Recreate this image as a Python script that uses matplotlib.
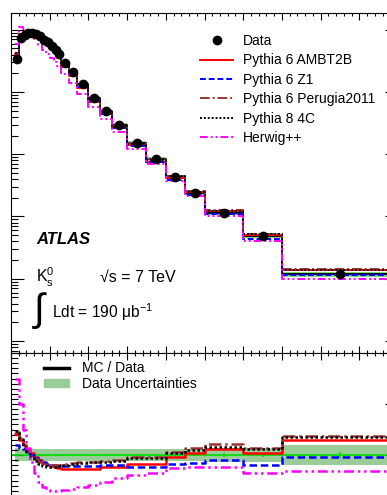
import matplotlib
matplotlib.use("Agg")
import matplotlib.pyplot as plt
import numpy as np
from matplotlib.lines import Line2D
from matplotlib.patches import Patch
from matplotlib.ticker import MultipleLocator, LogLocator, NullFormatter

plt.rcParams['font.family'] = ['Liberation Sans', 'DejaVu Sans']
plt.rcParams['mathtext.fontset'] = 'custom'
plt.rcParams['mathtext.rm'] = 'Liberation Sans'
plt.rcParams['mathtext.it'] = 'Liberation Sans:italic'

# K0s pT bins [GeV]
edges = [0.1, 0.2, 0.3, 0.4, 0.5, 0.6, 0.7, 0.8, 0.9, 1.0, 1.1, 1.2, 1.3,
         1.5, 1.7, 2.0, 2.3, 2.6, 3.0, 3.5, 4.0, 4.5, 5.0, 6.0, 7.0, 10.0]

# 1/N dN/dpT
data = [0.339, 0.737, 0.823, 0.887, 0.903, 0.855, 0.779, 0.697, 0.624, 0.548,
        0.473, 0.408, 0.292, 0.210, 0.134, 0.0801, 0.0496, 0.0295, 0.0152,
        0.0084, 0.00431, 0.00239, 0.00114, 0.000486, 0.000119]
# relative data uncertainties (total) and statistical
data_unc = [0.065, 0.06, 0.055, 0.055, 0.055, 0.055, 0.055, 0.055, 0.055, 0.055,
            0.055, 0.055, 0.06, 0.06, 0.06, 0.06, 0.06, 0.06, 0.06, 0.06,
            0.06, 0.06, 0.065, 0.07, 0.095]
data_stat = [0.005, 0.004, 0.004, 0.004, 0.004, 0.004, 0.004, 0.004, 0.004, 0.004,
             0.005, 0.005, 0.005, 0.005, 0.006, 0.006, 0.007, 0.008, 0.009, 0.01,
             0.012, 0.014, 0.015, 0.02, 0.03]

# MC / Data
r_ambt2b = [1.21, 1.15, 1.10, 1.06, 1.02, 0.98, 0.95, 0.92, 0.90, 0.89, 0.88, 0.87,
            0.86, 0.86, 0.86, 0.86, 0.88, 0.88, 0.91, 0.91, 0.98, 1.02, 1.06, 1.02, 1.15]
r_z1 = [1.10, 1.07, 1.06, 1.03, 1.00, 0.97, 0.95, 0.93, 0.91, 0.90, 0.90, 0.89,
        0.89, 0.89, 0.89, 0.89, 0.90, 0.90, 0.88, 0.88, 0.91, 0.92, 0.95, 0.90, 0.98]
r_p2011 = [1.23, 1.17, 1.10, 1.04, 0.99, 0.96, 0.93, 0.91, 0.90, 0.90, 0.90, 0.90,
           0.91, 0.92, 0.93, 0.93, 0.94, 0.95, 0.98, 0.98, 1.03, 1.07, 1.11, 1.07, 1.19]
r_4c = [1.24, 1.16, 1.08, 1.02, 0.97, 0.94, 0.91, 0.89, 0.88, 0.88, 0.88, 0.89,
        0.90, 0.91, 0.92, 0.93, 0.93, 0.94, 0.97, 0.97, 1.02, 1.05, 1.08, 1.06, 1.18]
r_herwig = [1.75, 1.50, 1.25, 1.07, 0.93, 0.82, 0.74, 0.69, 0.66, 0.65, 0.65, 0.65,
            0.66, 0.67, 0.69, 0.71, 0.74, 0.77, 0.80, 0.82, 0.87, 0.88, 0.88, 0.82, 0.84]

mc_names = ['Pythia 6 AMBT2B', 'Pythia 6 Z1', 'Pythia 6 Perugia2011', 'Pythia 8 4C', 'Herwig++']
mc_ratios = [r_ambt2b, r_z1, r_p2011, r_4c, r_herwig]
mc_colors = ['#ff0000', '#0000ff', '#993333', '#000000', '#ff00ff']
mc_styles = ['-', (0, (3, 1.5)), (0, (5, 1.5, 1, 1.5)), (0, (1, 1)), (0, (4, 1.5, 1, 1.5, 1, 1.5))]

W, H = 387, 495


def fx(px):
    return px / W


def fy(py):
    return 1 - py / H


e = np.array(edges)
d = np.array(data)
centers = 0.5 * (e[1:] + e[:-1])


def stepped(v):
    return np.append(v, v[-1])


fig = plt.figure(figsize=(W / 100, H / 100), dpi=100)
ax = fig.add_axes([fx(11), fy(353), fx(387), 340 / H])
rax = fig.add_axes([fx(11), fy(506), fx(387), 153 / H])

# main panel
unc = np.array(data_unc)
ax.fill_between(e, stepped(d * (1 - unc)), stepped(d * (1 + unc)), step='post',
                color='#66cc66', alpha=0.8, lw=0)
ax.step(e, stepped(d), where='post', color='black', lw=1.3)
for r, c, ls in zip(mc_ratios, mc_colors, mc_styles):
    ax.step(e, stepped(d * np.array(r)), where='post', color=c, ls=ls, lw=1.4)
ax.plot(centers, d, 'o', color='black', ms=6, zorder=5)

ax.set_yscale('log')
ax.set_xlim(0, 10)
ax.set_ylim(6.41e-6, 1.858)
ax.xaxis.set_major_locator(MultipleLocator(1))
ax.xaxis.set_minor_locator(MultipleLocator(0.2))
ax.yaxis.set_major_locator(LogLocator(base=10))
ax.yaxis.set_minor_locator(LogLocator(base=10, subs=np.arange(2, 10)))
ax.tick_params(axis='x', which='major', direction='in', top=True, bottom=True, length=5, width=0.8)
ax.tick_params(axis='x', which='minor', direction='in', top=True, bottom=True, length=2.5, width=0.8)
ax.tick_params(axis='y', which='major', direction='in', left=True, right=True, length=9.5, width=0.8)
ax.tick_params(axis='y', which='minor', direction='in', left=True, right=True, length=5, width=0.8)
ax.xaxis.set_major_formatter(NullFormatter())
ax.yaxis.set_major_formatter(NullFormatter())
ax.yaxis.set_minor_formatter(NullFormatter())
for s in ax.spines.values():
    s.set_linewidth(0.8)

handles = [Line2D([], [], marker='o', color='black', ls='none', ms=6)]
handles += [Line2D([], [], color=c, ls=ls, lw=1.4) for c, ls in zip(mc_colors, mc_styles)]
ax.legend(handles, ['Data'] + mc_names, loc='upper left', bbox_to_anchor=(fx(200) - fx(11), 1 - 21 / 340),
          bbox_transform=ax.transAxes, frameon=False, fontsize=10, handlelength=2.4,
          handletextpad=0.7, labelspacing=0.39, borderpad=0, borderaxespad=0)

fig.text(fx(36), fy(240), 'ATLAS', fontsize=12, fontweight='bold', fontstyle='italic', va='center')
fig.text(fx(36), fy(277), r'K$^{0}_{\mathrm{s}}$', fontsize=11.5, va='center')
fig.text(fx(100), fy(277), '√s = 7 TeV', fontsize=11.5, va='center')
fig.text(fx(34), fy(311), '∫', fontsize=28, va='center')
fig.text(fx(52), fy(312), r'Ldt = 190 $\mathrm{\mu}$b$^{\mathrm{-1}}$', fontsize=11.2, va='center')

# ratio panel
rax.fill_between(e, stepped(1 - unc), stepped(1 + unc), step='post', color='#99cc99', lw=0)
rax.axhline(1, color='#00dd00', lw=1.2)
rax.errorbar(centers, np.ones_like(centers), yerr=data_stat, fmt='none', ecolor='#00dd00', elinewidth=1.2)
for r, c, ls in zip(mc_ratios, mc_colors, mc_styles):
    rax.step(e, stepped(np.array(r)), where='post', color=c, ls=ls, lw=1.8)

rax.set_xlim(0, 10)
rax.set_ylim(0.5, 2.0)
rax.xaxis.set_major_locator(MultipleLocator(1))
rax.xaxis.set_minor_locator(MultipleLocator(0.2))
rax.yaxis.set_major_locator(MultipleLocator(0.5))
rax.yaxis.set_minor_locator(MultipleLocator(0.05))
rax.tick_params(axis='x', which='major', direction='in', top=True, bottom=True, length=5, width=0.8)
rax.tick_params(axis='x', which='minor', direction='in', top=True, bottom=True, length=2.5, width=0.8)
rax.tick_params(axis='y', which='major', direction='in', left=True, right=True, length=9.5, width=0.8)
rax.tick_params(axis='y', which='minor', direction='in', left=True, right=True, length=5, width=0.8)
rax.xaxis.set_major_formatter(NullFormatter())
rax.yaxis.set_major_formatter(NullFormatter())
for s in rax.spines.values():
    s.set_linewidth(0.8)

rhandles = [Line2D([], [], color='black', lw=2.5), Patch(color='#99cc99')]
rax.legend(rhandles, ['MC / Data', 'Data Uncertainties'], loc='upper left',
           bbox_to_anchor=(fx(44) - fx(11), 1 - 8 / 153), bbox_transform=rax.transAxes,
           frameon=False, fontsize=10, handlelength=1.8, handleheight=0.5, handletextpad=0.9,
           labelspacing=0.12, borderpad=0, borderaxespad=0)

fig.savefig('out.png', dpi=100)
